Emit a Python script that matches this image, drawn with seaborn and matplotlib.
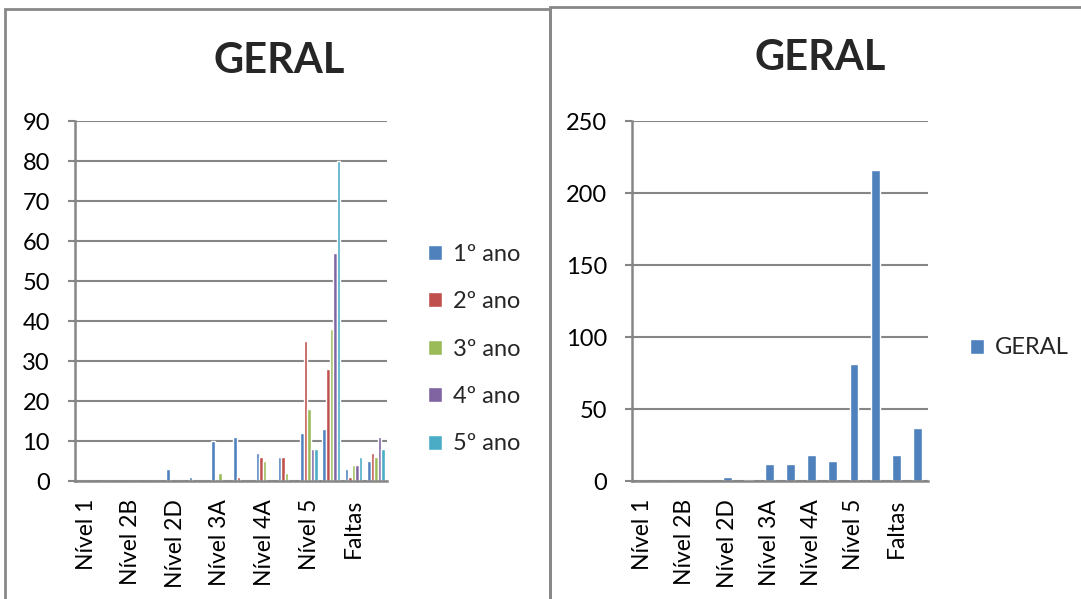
import matplotlib
matplotlib.use("Agg")
import matplotlib.pyplot as plt
import seaborn as sns
import pandas as pd
from matplotlib.patches import Rectangle

categories = ["Nível 1", "Nível 2A", "Nível 2B", "Nível 2C", "Nível 2D", "Nível 3",
              "Nível 3A", "Nível 3B", "Nível 4A", "Nível 4B", "Nível 5", "Nível 5A",
              "Faltas", "Transferidos"]
anos = ["1º ano", "2º ano", "3º ano", "4º ano", "5º ano"]
ano1 = [0, 0, 0, 0, 3, 1, 10, 11, 7, 6, 12, 13, 3, 5]
ano2 = [0, 0, 0, 0, 0, 0, 0, 1, 6, 6, 35, 28, 1, 7]
ano3 = [0, 0, 0, 0, 0, 0, 2, 0, 5, 2, 18, 38, 4, 6]
ano4 = [0, 0, 0, 0, 0, 0, 0, 0, 0, 0, 8, 57, 4, 11]
ano5 = [0, 0, 0, 0, 0, 0, 0, 0, 0, 0, 8, 80, 6, 8]
geral = [0, 0, 0, 0, 3, 1, 12, 12, 18, 14, 81, 216, 18, 37]
left_yticks = [0, 10, 20, 30, 40, 50, 60, 70, 80, 90]
right_yticks = [0, 50, 100, 150, 200, 250]
title = "GERAL"

colors = ["#4F81BD", "#C0504D", "#9BBB59", "#8064A2", "#4BACC6"]
grid_c = "#868686"

sns.set_style("white")
plt.rcParams['font.family'] = ['Lato', 'DejaVu Sans']

fig = plt.figure(figsize=(10.81, 5.99), dpi=100)

rows = []
for name, vals in zip(anos, [ano1, ano2, ano3, ano4, ano5]):
    for c, v in zip(categories, vals):
        rows.append({"cat": c, "val": v, "ano": name})
df = pd.DataFrame(rows)
df2 = pd.DataFrame({"cat": categories, "val": geral, "serie": [title] * len(categories)})

W, H = 1081, 599
def fx(px): return px / W
def fy(py): return 1 - py / H

ax1 = fig.add_axes([fx(75), fy(481), fx(387) - fx(75), fy(121) - fy(481)])
ax2 = fig.add_axes([fx(632), fy(481), fx(928) - fx(632), fy(121) - fy(481)])

sns.barplot(data=df, x="cat", y="val", hue="ano", order=categories, hue_order=anos,
            palette=colors, width=0.8, saturation=1, ax=ax1, legend=True)
sns.barplot(data=df2, x="cat", y="val", hue="serie", order=categories,
            palette=[colors[0]], width=0.42, saturation=1, ax=ax2, legend=True)

for ax, yt in [(ax1, left_yticks), (ax2, right_yticks)]:
    ax.set_ylim(yt[0], yt[-1])
    ax.set_yticks(yt)
    ax.set_xlim(-0.5, len(categories) - 0.5)
    ax.set_xticks(range(len(categories)))
    ax.set_xticklabels([c if i % 2 == 0 else "" for i, c in enumerate(categories)],
                       rotation=90, fontsize=16.5, color="black")
    ax.tick_params(axis="y", labelsize=17, length=5, width=1.5, color=grid_c,
                   direction="out", left=True, pad=13, labelcolor="black")
    ax.tick_params(axis="x", length=0, pad=13)
    ax.grid(axis="y", color=grid_c, linewidth=1.5)
    ax.set_axisbelow(True)
    for s in ["top", "right"]:
        ax.spines[s].set_visible(False)
    for s in ["left", "bottom"]:
        ax.spines[s].set_color(grid_c)
        ax.spines[s].set_linewidth(1.8)
    ax.set_xlabel("")
    ax.set_ylabel("")

ax1.legend(loc="center left", bbox_to_anchor=(fx(428), fy(349)),
           bbox_transform=fig.transFigure, frameon=False, fontsize=17,
           handlelength=0.6, handleheight=0.6, handletextpad=0.45,
           labelspacing=1.12, borderaxespad=0, borderpad=0)
ax2.legend(loc="center left", bbox_to_anchor=(fx(970), fy(348)),
           bbox_transform=fig.transFigure, frameon=False, fontsize=17,
           handlelength=0.6, handleheight=0.6, handletextpad=0.45,
           borderaxespad=0, borderpad=0)

fig.text(fx(279), fy(61), title, ha="center", va="center", fontsize=30, fontweight="bold")
fig.text(fx(820), fy(58), title, ha="center", va="center", fontsize=30, fontweight="bold")

fig.add_artist(Rectangle((fx(5), fy(620)), fx(550) - fx(5), fy(9) - fy(620),
                         transform=fig.transFigure, fill=False, edgecolor="#888888", lw=2))
fig.add_artist(Rectangle((fx(550), fy(620)), fx(1100) - fx(550), fy(7) - fy(620),
                         transform=fig.transFigure, fill=False, edgecolor="#888888", lw=2))

fig.savefig("out.png", dpi=100)
